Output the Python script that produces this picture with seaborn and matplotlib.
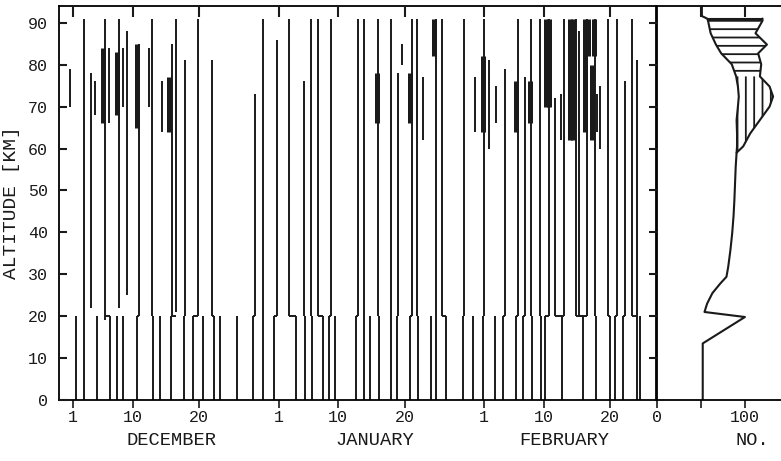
import numpy as np
import matplotlib
matplotlib.use("Agg")
import matplotlib.pyplot as plt
import matplotlib.transforms as mtransforms
import seaborn as sns

# ---------------- data (days counted from 1 December) ----------------
low_day = [0.53, 1.66, 3.62, 5.63, 6.64, 7.62, 9.70, 12.11, 13.20, 14.78, 16.67, 18.14,
           19.65, 21.31, 22.17, 24.66, 27.22, 28.61, 30.27, 33.68, 35.04, 36.05, 37.66,
           38.66, 39.56, 42.64, 43.89, 44.75, 46.15, 47.92, 48.82, 50.78, 52.08, 53.95,
           54.80, 56.21, 58.78, 60.29, 61.79, 63.70, 64.90, 66.82, 67.83, 69.23, 70.59,
           71.15, 73.80, 76.82, 78.93, 80.95, 81.70, 82.96, 85.11, 85.48]
low_top = [20] * len(low_day)

up_day = [-0.45, 1.73, 2.79, 3.39, 4.83, 5.43, 6.94, 7.50, 8.10, 9.95, 11.46, 11.87, 13.50,
          14.89, 15.61, 16.97, 18.85, 20.89, 27.45, 28.58, 30.77, 32.58, 34.89, 35.90,
          36.90, 38.91, 42.90, 43.89, 46.00, 47.92, 49.07, 49.58, 51.18, 51.84, 52.79,
          54.80, 55.70, 59.02, 60.68, 62.04, 62.70, 63.80, 65.16, 67.07, 68.17, 69.08,
          70.44, 71.80, 72.65, 73.60, 74.00, 75.90, 76.32, 77.48, 78.69, 79.03, 79.44,
          80.69, 82.05, 83.21, 84.21, 85.07]
up_bot = [70, 20, 22, 68, 19, 66, 22, 70, 25, 20, 70, 20, 64,
          20, 21, 20, 20, 20, 20, 20, 20, 20, 20, 20,
          20, 20, 20, 20, 20, 20, 20, 80, 20, 20, 62,
          20, 20, 20, 64, 20, 60, 66, 20, 20, 20, 20,
          20, 20, 20, 62, 20, 20, 20, 20, 20, 64, 60,
          20, 20, 20, 20, 20]
up_top = [79, 91, 78, 76, 91, 84, 91, 84, 88, 85, 84, 91, 76,
          85, 91, 81, 91, 81, 73, 91, 86, 91, 76, 91,
          91, 91, 91, 91, 91, 91, 78, 85, 91, 91, 77,
          91, 91, 91, 77, 91, 81, 75, 79, 91, 77, 91,
          91, 91, 72, 73, 91, 91, 88, 91, 91, 73, 75,
          91, 91, 76, 91, 81]

cl_day = [4.52, 6.71, 9.65, 14.48, 45.85, 50.83, 54.45, 61.76, 66.82, 68.93,
          71.34, 71.80, 74.96, 75.40, 77.20, 77.60, 78.20, 78.58]
cl_bot = [66, 68, 65, 64, 66, 66, 82, 64, 64, 66, 70, 70, 62, 62, 64, 82, 62, 82]
cl_top = [84, 83, 85, 77, 78, 78, 91, 82, 76, 76, 91, 91, 91, 91, 91, 91, 80, 91]

tick_days = [0, 9, 19, 31, 40, 50, 62, 71, 81]
tick_labels = ["1", "10", "20", "1", "10", "20", "1", "10", "20"]
alt_ticks = list(range(0, 91, 10))
months = ["DECEMBER", "JANUARY", "FEBRUARY"]
month_pos = [14.8, 45.5, 74.0]

# altitude profile (right panel)
alt = [0, 13.5, 19.8, 21, 23, 25.5, 27.8, 29.4, 31.8, 35.8, 39.8, 43.8, 47.7, 55.7,
       59, 60.5, 63.6, 66.8, 70, 72.4, 74.8, 77.2, 80.1, 82.7, 84.8, 87.5, 90.5, 91,
       91.6, 94]
n_all = [52, 52, 100, 54, 57, 63, 72, 79, 81, 83.5, 85.5, 87, 88, 89.5,
         90.5, 91, 91, 90.5, 92, 93, 92, 90, 85, 73, 67, 61, 58, 57, 51, 51]
alt_hi = [59, 60.5, 63.6, 66.8, 70, 72.4, 74.8, 77.2, 80.1, 82.7, 84.8, 87.5, 90.5, 91]
n_hi = [90.5, 98, 106, 117, 128, 132, 128, 117, 118.5, 115, 125, 112, 120, 120]
no_ticks = [0, 50, 100]
no_labels = ["0", "", "100"]

# ---------------- style ----------------
sns.set_theme(style="ticks")
plt.rcParams["font.family"] = ["Liberation Mono", "DejaVu Sans Mono"]
plt.rcParams["hatch.linewidth"] = 1.3
plt.rcParams["axes.linewidth"] = 1.3
plt.rcParams["axes.edgecolor"] = "black"

fig = plt.figure(figsize=(7.81, 4.61), dpi=100)
ax = fig.add_axes([59 / 781, 61 / 461, 597 / 781, 394 / 461])
axr = fig.add_axes([657 / 781, 61 / 461, 124 / 781, 394 / 461])

LW = 1.4
ax.vlines(low_day, 0, low_top, color="k", lw=LW)
ax.vlines(up_day, up_bot, up_top, color="k", lw=LW)
ax.vlines(cl_day, cl_bot, cl_top, color="k", lw=3.6)
low_arr = np.array(low_day)
for d, b in zip(up_day, up_bot):
    if b <= 21:
        j = np.argmin(np.abs(low_arr - d))
        if abs(low_arr[j] - d) < 1.3:
            ax.hlines(20, min(d, low_arr[j]), max(d, low_arr[j]), color="k", lw=LW)

ax.set_xlim(-2.1, 87.9)
ax.set_ylim(0, 94)
ax.set_xticks(tick_days)
ax.set_xticklabels(tick_labels)
ax.set_yticks(alt_ticks)
ax.tick_params(axis="x", direction="out", length=6, width=1.2,
               labelsize=12, pad=1, colors="k", bottom=True, top=False)
ax.tick_params(axis="y", direction="in", length=0, labelsize=12, pad=8,
               colors="k", left=True, right=False)
ax.set_ylabel("ALTITUDE [KM]", fontsize=14, color="k", labelpad=6)

# inward tick marks along the top edge and the left edge
top_tr = mtransforms.blended_transform_factory(ax.transData, ax.transAxes)
ax.vlines(tick_days, 0.972, 1.0, transform=top_tr, color="k", lw=1.5,
          clip_on=False, zorder=6)
left_tr = mtransforms.blended_transform_factory(ax.transAxes, ax.transData)
ax.hlines(alt_ticks, 0.0, 8 / 597, transform=left_tr, color="k", lw=1.5,
          clip_on=False, zorder=6)

trans = mtransforms.blended_transform_factory(ax.transData, fig.transFigure)
for m, p in zip(months, month_pos):
    ax.text(p, 1 - 440 / 461, m, transform=trans, ha="center", va="center",
            fontsize=13.5, color="k")

# right panel
i0 = alt.index(alt_hi[0])
base = np.array(n_all[i0:i0 + len(alt_hi)])
ah = np.array(alt_hi)
axr.fill_betweenx(ah, base, n_hi, where=ah >= 77.2, facecolor="white",
                  edgecolor="k", hatch="--", linewidth=0)
axr.fill_betweenx(ah, base, n_hi, where=ah <= 77.2, facecolor="white",
                  edgecolor="k", hatch="||", linewidth=0)
sns.lineplot(x=n_all, y=alt, orient="y", sort=False, estimator=None, color="k",
             lw=1.5, ax=axr)
sns.lineplot(x=n_hi, y=alt_hi, orient="y", sort=False, estimator=None, color="k",
             lw=1.5, ax=axr)
axr.hlines(alt_hi[-1], n_all[i0 + len(alt_hi) - 1], n_hi[-1], color="k", lw=1.5)

axr.set_xlim(0, 141)
axr.set_ylim(0, 94)
axr.set_yticks(alt_ticks)
axr.set_yticklabels([])
axr.set_xticks(no_ticks)
axr.set_xticklabels(no_labels)
axr.tick_params(axis="x", direction="out", length=6, width=1.2,
                labelsize=12, pad=1, colors="k", bottom=True, top=False)
axr.tick_params(axis="y", length=0)
axr.spines["right"].set_visible(False)
axr.set_xlabel("")
axr.set_ylabel("")
top_tr_r = mtransforms.blended_transform_factory(axr.transData, axr.transAxes)
axr.vlines(no_ticks[1:], 0.972, 1.0, transform=top_tr_r, color="k", lw=1.5,
           clip_on=False, zorder=6)
left_tr_r = mtransforms.blended_transform_factory(axr.transAxes, axr.transData)
axr.hlines(alt_ticks[1:], -8 / 124, 0.0, transform=left_tr_r, color="k", lw=1.5,
           clip_on=False, zorder=6)

fig.text(1 - (781 - 752) / 781, 1 - 440 / 461, "NO.", ha="center", va="center",
         fontsize=13.5, color="k")

fig.savefig("out.png", dpi=100)
